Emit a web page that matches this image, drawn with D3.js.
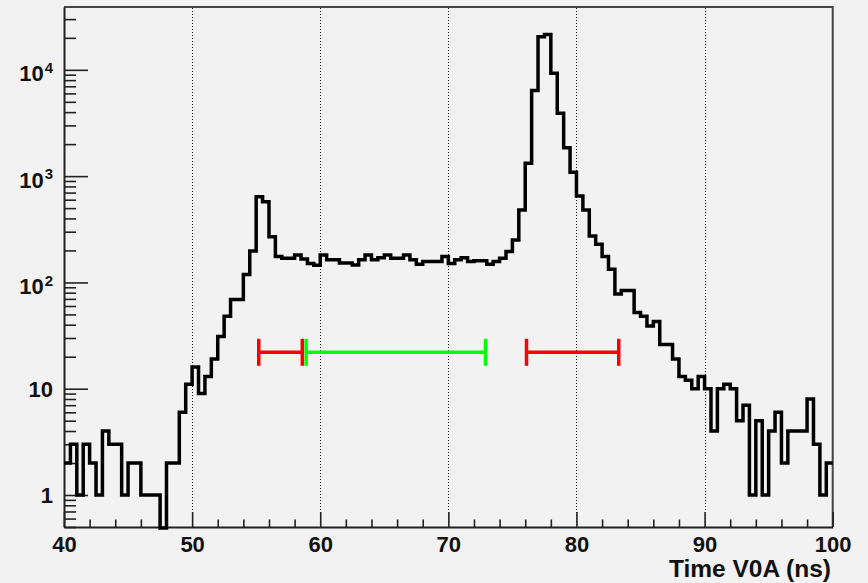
<!DOCTYPE html>
<html><head><meta charset="utf-8">
<script src="https://cdn.jsdelivr.net/npm/d3@7"></script>
<style>html,body{margin:0;padding:0;background:#f2f2f2;} svg{display:block;}</style>
</head><body><svg id="c" width="868" height="583"></svg>
<script>
// ---- data ----
const binStart = 40;
const binWidth = 0.5;
const counts = [
  2, 3, 1, 3, 2, 1, 4, 3, 3, 1,
  2, 2, 1, 1, 1, 0, 2, 2, 6, 11,
  16, 9, 13, 19, 31, 48, 69, 69, 119, 197,
  640, 574, 269, 175, 169, 169, 181, 166, 151, 145,
  181, 163, 163, 152, 152, 146, 163, 181, 163, 171,
  181, 169, 169, 181, 163, 148, 157, 157, 157, 175,
  151, 163, 171, 157, 160, 160, 148, 157, 169, 195,
  251, 481, 1320, 6400, 20500, 21500, 9300, 3900, 1850, 1090,
  650, 481, 273, 228, 175, 133, 78, 84, 84, 52,
  48, 39, 43, 26, 26, 19, 13, 12, 10, 13,
  10, 4, 10, 11, 10, 5, 7, 1, 5, 1,
  4, 6, 2, 4, 4, 4, 8, 3, 1, 2
];
const xDomain = [40, 100];
const yDomain = [0.5, 39000];
const xTicksMajor = [40, 50, 60, 70, 80, 90, 100];
const xTicksMinor = [42, 44, 46, 48, 52, 54, 56, 58, 62, 64, 66, 68, 72, 74, 76, 78, 82, 84, 86, 88, 92, 94, 96, 98];
const gridX = [50, 60, 70, 80, 90];
const yTicksMajor = [1, 10, 100, 1000, 10000];
const yTickBase = ["1", "10", "10", "10", "10"];
const yTickExp = ["", "", "2", "3", "4"];
const redRanges = [[55.2, 58.6], [76.1, 83.3]];
const greenRanges = [[58.9, 72.9]];
const rangeLevel = 22;
const xTitle = "Time V0A (ns)";

// ---- layout ----
const L = 64, R = 832.7, T = 7, B = 527;
const svg = d3.select("#c");
svg.append("rect").attr("width", 868).attr("height", 583).attr("fill", "#f2f2f2");

const x = d3.scaleLinear().domain(xDomain).range([L, R]);
const y = d3.scaleLog().domain(yDomain).range([B, T]);

// grid
svg.append("g").selectAll("line").data(gridX).join("line")
  .attr("x1", d => Math.round(x(d)) + 0.5).attr("x2", d => Math.round(x(d)) + 0.5)
  .attr("y1", T + 1).attr("y2", B)
  .attr("stroke", "#111").attr("stroke-width", 1).attr("stroke-dasharray", "1,2");

// frame top/right
svg.append("path")
  .attr("d", `M${L},${T}H${R}V${B}`)
  .attr("fill", "none").attr("stroke", "#444").attr("stroke-width", 2);

const font = "'Liberation Sans', Arial, Helvetica, sans-serif";

// x axis
const gx = svg.append("g").attr("transform", `translate(0,${B})`);
gx.call(d3.axisBottom(x).tickValues(xTicksMajor).tickSize(-15).tickSizeOuter(0).tickPadding(9).tickFormat(d3.format("d")));
const gxm = svg.append("g").attr("transform", `translate(0,${B})`);
gxm.call(d3.axisBottom(x).tickValues(xTicksMinor).tickSize(-7.5).tickSizeOuter(0).tickFormat(""));
gxm.select(".domain").remove();

// y axis
const gy = svg.append("g").attr("transform", `translate(${L},0)`);
gy.call(d3.axisLeft(y).tickValues(yTicksMajor).tickSize(-24).tickSizeOuter(0).tickPadding(11).tickFormat(""));
const minorY = y.ticks().filter(v => !yTicksMajor.includes(v));
const gym = svg.append("g").attr("transform", `translate(${L},0)`);
gym.call(d3.axisLeft(y).tickValues(minorY).tickSize(-12).tickSizeOuter(0).tickFormat(""));
gym.select(".domain").remove();

[gx, gxm, gy, gym].forEach(g => {
  g.selectAll("path.domain").attr("stroke", "#222").attr("stroke-width", 2);
  g.selectAll(".tick line").attr("stroke", "#222").attr("stroke-width", 1.6);
  g.selectAll("text").attr("font-family", font).attr("font-weight", "bold").attr("font-size", 22).attr("fill", "#111");
});

// y labels with superscripts
gy.selectAll(".tick text").each(function(d, i) {
  const t = d3.select(this);
  const hasExp = yTickExp[i] !== "";
  t.attr("dy", hasExp ? "0.5em" : "0.34em");
  t.append("tspan").text(yTickBase[i]);
  if (hasExp) {
    t.append("tspan").attr("font-size", 15).attr("dy", "-0.55em").attr("dx", "1").text(yTickExp[i]);
  }
});

// histogram
const pts = [];
counts.forEach((v, i) => {
  const lo = binStart + i * binWidth, hi = lo + binWidth;
  pts.push([lo, v], [hi, v]);
});
const line = d3.line()
  .x(d => x(d[0]))
  .y(d => d[1] > 0 ? y(d[1]) : B + 1);
svg.append("path").datum(pts).attr("d", line)
  .attr("fill", "none").attr("stroke", "#000").attr("stroke-width", 3.5)
  .attr("stroke-linejoin", "miter");

// range bars
function drawRanges(data, color) {
  const g = svg.append("g").attr("stroke", color).attr("stroke-width", 3.5);
  const yl = y(rangeLevel);
  g.selectAll("line.h").data(data).join("line").attr("class", "h")
    .attr("x1", d => x(d[0])).attr("x2", d => x(d[1])).attr("y1", yl).attr("y2", yl);
  g.selectAll("line.c").data(data.flat()).join("line").attr("class", "c")
    .attr("x1", d => x(d)).attr("x2", d => x(d)).attr("y1", yl - 13.5).attr("y2", yl + 13.5);
}
drawRanges(redRanges, "#ff0000");
drawRanges(greenRanges, "#00ff00");

// x title
svg.append("text").attr("x", 831).attr("y", 577).attr("text-anchor", "end")
  .attr("font-family", font).attr("font-weight", "bold").attr("font-size", 24.5).attr("fill", "#111")
  .text(xTitle);
</script></body></html>
